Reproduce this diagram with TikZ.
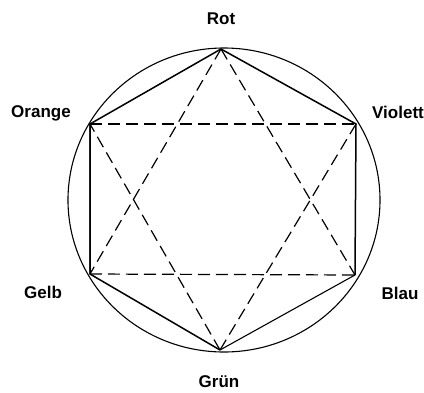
\documentclass[tikz,border=0pt]{standalone}
\usepackage{fontspec}
\setmainfont{Liberation Sans}
\begin{document}
\begin{tikzpicture}[x=1pt,y=-1pt,
  lbl/.style={font=\bfseries\fontsize{17}{20}\selectfont, inner sep=0pt},
  pt/.style={inner sep=0pt, minimum size=0pt},
  side/.style={line width=1.5pt, line join=miter},
  dsh/.style={line width=1.2pt, dash pattern=on 12pt off 6pt}]
\useasboundingbox (0,0) rectangle (424,392);
\node[pt] (c) at (224,200) {};
\draw[line width=1.1pt] (c) ellipse [x radius=156, y radius=152];
\node[pt] (rot) at (221,49) {};
\node[pt] (ora) at (90,124) {};
\node[pt] (vio) at (356,124) {};
\node[pt] (gel) at (90,274) {};
\node[pt] (bla) at (355,275) {};
\node[pt] (gru) at (220,350) {};
\draw[side] (gel.center) -- (ora.center) -- (rot.center) -- (vio.center) -- (bla.center);
\draw[side] (ora.center) -- (gel.center) -- (gru.center);
\draw[line width=1.1pt] (bla.center) -- (gru.center);
\draw[dsh] (ora.center) -- (vio.center);
\draw[dsh] (gel.center) -- (bla.center);
\draw[dsh] (rot.center) -- (gel.center);
\draw[dsh] (rot.center) -- (bla.center);
\draw[dsh] (gru.center) -- (ora.center);
\draw[dsh] (gru.center) -- (vio.center);
\node[lbl] (lrot) at (221,19) {Rot};
\node[lbl] (lora) at (41,113) {Orange};
\node[lbl] (lvio) at (398,112) {Violett};
\node[lbl] (lgel) at (43,292) {Gelb};
\node[lbl] (lbla) at (400,293) {Blau};
\node[lbl] (lgru) at (219,382) {Grün};
\end{tikzpicture}
\end{document}
